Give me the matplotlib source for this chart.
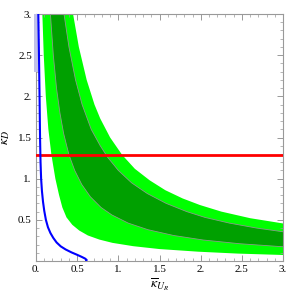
import matplotlib
matplotlib.use('Agg')
import matplotlib.pyplot as plt
from matplotlib.ticker import MultipleLocator, FixedLocator, FixedFormatter

light_green = '#00ff00'
dark_green = '#00a000'
edge_gray = '#8a9a8a'
red = '#ff0000'
blue = '#0000ff'

plt.rcParams.update({
    'font.family': 'serif',
    'font.serif': ['Liberation Serif', 'DejaVu Serif'],
    'mathtext.fontset': 'stix',
})

# outer (light) band: lower and upper edges
light_lo_ku = [0.077, 0.094, 0.119, 0.15, 0.187, 0.235, 0.28, 0.32, 0.37, 0.44, 0.525, 0.63, 0.77, 0.93, 1.18, 1.5, 1.97, 2.45, 3.0]
light_lo_kd = [3.0, 2.5, 2.0, 1.6, 1.29, 1.0, 0.8, 0.65, 0.53, 0.44, 0.37, 0.31, 0.26, 0.22, 0.18, 0.145, 0.113, 0.09, 0.073]
light_hi_ku = [0.45, 0.52, 0.615, 0.71, 0.78, 0.9, 1.045, 1.2, 1.38, 1.57, 1.78, 1.99, 2.25, 2.6, 3.0]
light_hi_kd = [3.0, 2.6, 2.2, 1.9, 1.73, 1.5, 1.29, 1.12, 0.98, 0.86, 0.76, 0.68, 0.6, 0.52, 0.456]

# inner (dark) band
dark_lo_ku = [0.175, 0.21, 0.25, 0.29, 0.335, 0.40, 0.47, 0.555, 0.66, 0.79, 0.92, 1.12, 1.36, 1.67, 2.03, 2.47, 3.0]
dark_lo_kd = [3.0, 2.5, 2.09, 1.8, 1.55, 1.29, 1.1, 0.93, 0.78, 0.65, 0.56, 0.46, 0.38, 0.31, 0.255, 0.21, 0.173]
dark_hi_ku = [0.34, 0.40, 0.48, 0.56, 0.67, 0.78, 0.87, 1.0, 1.16, 1.35, 1.58, 1.83, 2.05, 2.35, 2.68, 3.0]
dark_hi_kd = [3.0, 2.6, 2.2, 1.9, 1.6, 1.4, 1.26, 1.1, 0.95, 0.82, 0.7, 0.6, 0.53, 0.46, 0.40, 0.355]

# blue bound
blue_ku = [0.028, 0.036, 0.043, 0.049, 0.055, 0.062, 0.072, 0.085, 0.10, 0.12, 0.145, 0.175, 0.21,
           0.25, 0.30, 0.36, 0.43, 0.50, 0.555, 0.595, 0.615, 0.61]
blue_kd = [3.0, 2.5, 2.0, 1.5, 1.2, 1.0, 0.85, 0.72, 0.61, 0.5, 0.41, 0.34, 0.28,
           0.225, 0.178, 0.14, 0.105, 0.075, 0.05, 0.03, 0.013, 0.0]

red_kd = 1.29

x_ticks = [0, 0.5, 1, 1.5, 2, 2.5, 3]
x_labels = ['0.', '0.5', '1.', '1.5', '2.', '2.5', '3.']
y_ticks = [0.5, 1, 1.5, 2, 2.5, 3]
y_labels = ['0.5', '1.', '1.5', '2.', '2.5', '3.']

fig = plt.figure(figsize=(2.89, 2.97), dpi=100)
ax = fig.add_axes([0.1246, 0.1212, 0.855, 0.8316])

ax.fill(light_lo_ku + light_hi_ku[::-1], light_lo_kd + light_hi_kd[::-1],
        color=light_green, lw=0, zorder=1)
ax.fill(dark_lo_ku + dark_hi_ku[::-1], dark_lo_kd + dark_hi_kd[::-1],
        color=dark_green, lw=0, zorder=2)
ax.plot(dark_lo_ku, dark_lo_kd, color=edge_gray, lw=0.6, zorder=3)
ax.plot(dark_hi_ku, dark_hi_kd, color=edge_gray, lw=0.6, zorder=3)

# faint shading beside the blue line near the top
ax.fill_betweenx([2.29, 3.0], -0.022, 0.02, color='#c0c0e8', lw=0, clip_on=False, zorder=4)

ax.axhline(red_kd, color=red, lw=2, zorder=5)
ax.plot(blue_ku, blue_kd, color=blue, lw=1.5, zorder=6)

ax.set_xlim(0, 3)
ax.set_ylim(0, 3)

ax.xaxis.set_major_locator(FixedLocator(x_ticks))
ax.xaxis.set_major_formatter(FixedFormatter(x_labels))
ax.yaxis.set_major_locator(FixedLocator(y_ticks))
ax.yaxis.set_major_formatter(FixedFormatter(y_labels))
ax.xaxis.set_minor_locator(MultipleLocator(0.1))
ax.yaxis.set_minor_locator(MultipleLocator(0.1))
ax.tick_params(which='both', direction='in', top=True, right=True,
               color='#999999', labelsize=8, pad=3)
ax.tick_params(which='major', length=4, width=0.7)
ax.tick_params(which='minor', length=2, width=0.5)
for s in ax.spines.values():
    s.set_color('#999999')
    s.set_linewidth(0.8)

ax.set_xlabel(r'$\overline{\kappa}_{U_R}$', fontsize=10, labelpad=2)
ax.set_ylabel(r'$\kappa_D$', fontsize=10, labelpad=4)

fig.savefig('out.png', dpi=100)
